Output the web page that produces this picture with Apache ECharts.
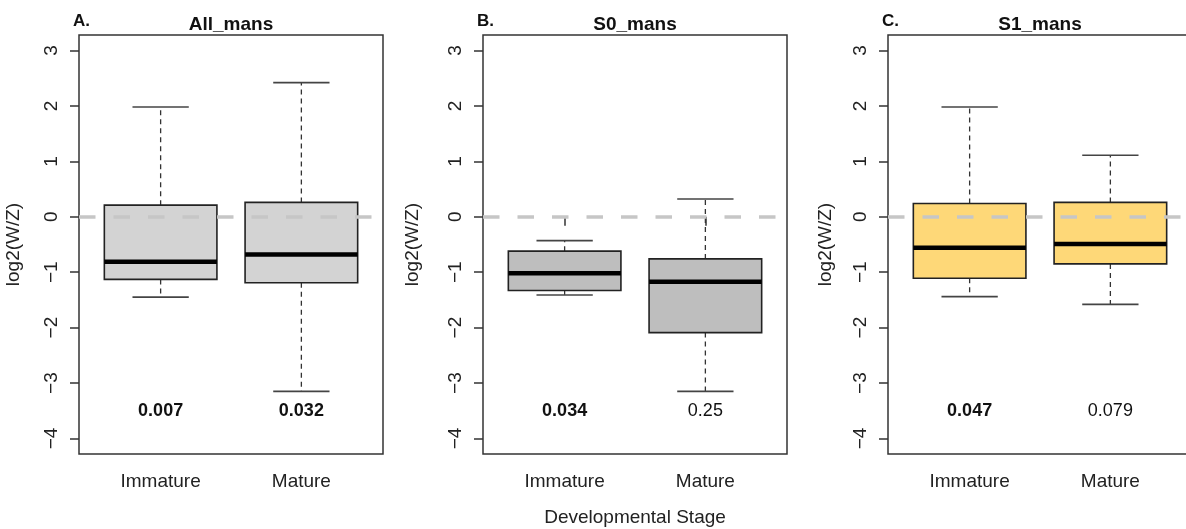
<!DOCTYPE html>
<html>
<head>
<meta charset="utf-8">
<script src="https://cdn.jsdelivr.net/npm/echarts@6/dist/echarts.min.js"></script>
<style>
  html, body { margin: 0; padding: 0; background: #fff; }
  #chart { width: 1186px; height: 529px; }
</style>
</head>
<body>
<div id="chart"></div>
<script>
const stages = ["Immature", "Mature"];
const yTicks = [-4, -3, -2, -1, 0, 1, 2, 3];

// each box: [lower whisker, Q1, median, Q3, upper whisker]
const allMans = [
  [-1.45, -1.13, -0.81, 0.21, 1.98],
  [-3.15, -1.19, -0.68, 0.26, 2.42],
];
const s0Mans = [
  [-1.41, -1.33, -1.02, -0.62, -0.43],
  [-3.15, -2.09, -1.17, -0.76, 0.32],
];
const s1Mans = [
  [-1.44, -1.11, -0.56, 0.24, 1.98],
  [-1.58, -0.85, -0.49, 0.26, 1.11],
];

const allP = ["0.007", "0.032"];
const s0P = ["0.034", "0.25"];
const s1P = ["0.047", "0.079"];
const pLabelY = -3.51;

const panels = [
  { tag: "A.", title: "All_mans", boxes: allMans, p: allP, fill: "#d3d3d3", left: 79, nameGap: 56 },
  { tag: "B.", title: "S0_mans", boxes: s0Mans, p: s0P, fill: "#bebebe", left: 483, nameGap: 61 },
  { tag: "C.", title: "S1_mans", boxes: s1Mans, p: s1P, fill: "#fed878", left: 888, nameGap: 53 },
];

const FONT = "'Liberation Sans', Arial, Helvetica, sans-serif";
const PLOT_W = 304;
const PLOT_TOP = 35;
const PLOT_H = 419;
const BOX_W = 0.8;

function boxRenderer(fill) {
  return function (params, api) {
    const x = api.value(0);
    const lo = api.coord([x, api.value(1)]);
    const q1 = api.coord([x, api.value(2)]);
    const md = api.coord([x, api.value(3)]);
    const q3 = api.coord([x, api.value(4)]);
    const hi = api.coord([x, api.value(5)]);
    const half = api.size([BOX_W, 0])[0] / 2;
    const cap = half / 2;
    const cx = md[0];
    const whisker = { stroke: "#333", lineWidth: 1.3, lineDash: [5, 4] };
    const capStyle = { stroke: "#444", lineWidth: 1.6 };
    return {
      type: "group",
      children: [
        { type: "line", shape: { x1: cx, y1: q3[1], x2: cx, y2: hi[1] }, style: whisker },
        { type: "line", shape: { x1: cx, y1: q1[1], x2: cx, y2: lo[1] }, style: whisker },
        { type: "line", shape: { x1: cx - cap, y1: hi[1], x2: cx + cap, y2: hi[1] }, style: capStyle },
        { type: "line", shape: { x1: cx - cap, y1: lo[1], x2: cx + cap, y2: lo[1] }, style: capStyle },
        {
          type: "rect",
          shape: { x: cx - half, y: q3[1], width: half * 2, height: q1[1] - q3[1] },
          style: { fill: fill, stroke: "#222", lineWidth: 1.6 },
        },
        { type: "line", shape: { x1: cx - half, y1: md[1], x2: cx + half, y2: md[1] }, style: { stroke: "#000", lineWidth: 4.5 } },
      ],
    };
  };
}

function pRenderer(params, api) {
  const pt = api.coord([api.value(0), api.value(1)]);
  const txt = api.value(2);
  const bold = parseFloat(txt) < 0.05;
  return {
    type: "text",
    x: pt[0],
    y: pt[1],
    style: {
      text: txt,
      fill: "#111",
      font: (bold ? "bold " : "") + "18px " + FONT,
      textAlign: "center",
      textVerticalAlign: "middle",
    },
  };
}

const grid = [];
const xAxis = [];
const yAxis = [];
const series = [];
const title = [];

panels.forEach((pn, i) => {
  grid.push({
    left: pn.left, top: PLOT_TOP, width: PLOT_W, height: PLOT_H,
    outerBoundsMode: "none", containLabel: false,
    show: true, borderColor: "#333", borderWidth: 1.5, backgroundColor: "transparent",
  });
  xAxis.push({
    type: "value", gridIndex: i, min: 0.42, max: 2.58,
    axisLine: { show: false },
    splitLine: { show: false },
    axisTick: { show: true, customValues: [1, 2], length: 9, lineStyle: { color: "#333", width: 1.5 } },
    axisLabel: {
      customValues: [1, 2], margin: 18, color: "#222", fontSize: 19, fontFamily: FONT,
      formatter: (v) => stages[Math.round(v) - 1],
    },
    name: i === 1 ? "Developmental Stage" : "",
    nameLocation: "middle", nameGap: 54,
    nameTextStyle: { color: "#222", fontSize: 19, fontFamily: FONT },
  });
  yAxis.push({
    type: "value", gridIndex: i, min: -4.28, max: 3.28,
    axisLine: { show: false },
    splitLine: { show: false },
    axisTick: { show: true, customValues: yTicks, length: 9, lineStyle: { color: "#333", width: 1.5 } },
    axisLabel: {
      customValues: yTicks, rotate: 90, margin: 18, color: "#222", fontSize: 19, fontFamily: FONT,
      formatter: (v) => (v < 0 ? "\u2212" + Math.abs(v) : String(v)),
    },
    name: "log2(W/Z)", nameLocation: "middle", nameGap: pn.nameGap,
    nameTextStyle: { color: "#222", fontSize: 19, fontFamily: FONT },
  });
  series.push({
    type: "custom", xAxisIndex: i, yAxisIndex: i,
    renderItem: boxRenderer(pn.fill),
    data: pn.boxes.map((b, k) => [k + 1].concat(b)),
    encode: { x: 0, y: [1, 2, 3, 4, 5] },
    markLine: {
      silent: true, symbol: "none", label: { show: false },
      lineStyle: { color: "#c6c6c6", width: 3.5, type: [16.5, 18] },
      data: [{ yAxis: 0 }],
    },
  });
  series.push({
    type: "custom", xAxisIndex: i, yAxisIndex: i,
    renderItem: pRenderer,
    data: pn.p.map((t, k) => [k + 1, pLabelY, t]),
    encode: { x: 0, y: 1 },
  });
  title.push({
    text: pn.tag, left: pn.left - 6, top: 13, padding: 0,
    textStyle: { fontSize: 17, fontWeight: "bold", color: "#111", fontFamily: FONT },
  });
  title.push({
    text: pn.title, left: pn.left + PLOT_W / 2, top: 15, padding: 0, textAlign: "center",
    textStyle: { fontSize: 19, fontWeight: "bold", color: "#111", fontFamily: FONT },
  });
});

const chart = echarts.init(document.getElementById("chart"));
chart.setOption({
  animation: false,
  backgroundColor: "#fff",
  title, grid, xAxis, yAxis, series,
});
</script>
</body>
</html>
